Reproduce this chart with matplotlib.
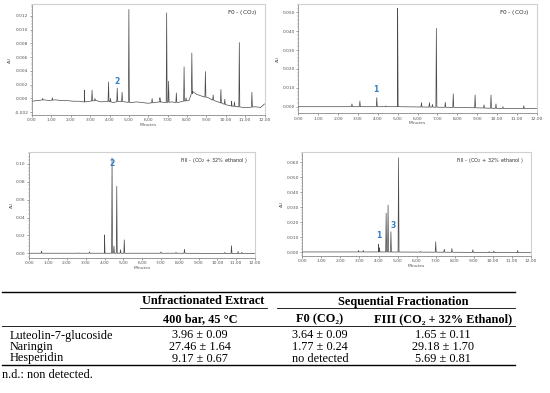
import numpy as np
import matplotlib
matplotlib.use("Agg")
import matplotlib.pyplot as plt
from matplotlib.lines import Line2D
from matplotlib.ticker import MultipleLocator, FormatStrFormatter

# ---- chromatogram data (retention time in min, apex in AU) ----
# F0 (CO2), top left
p1_rt = [0.55, 1.05, 2.7, 3.1, 3.25, 3.95, 4.05, 4.4, 4.65, 5.0, 6.2, 6.6, 6.95, 7.05,
         7.45, 7.85, 7.95, 8.25, 8.95, 9.35, 9.75, 9.95, 10.3, 10.45, 10.7, 11.35]
p1_h = [0.0000, 0.0001, 0.0012, 0.0012, 0.0000, 0.0024, 0.0000, 0.0015, 0.0009, 0.0129,
        0.0000, 0.0001, 0.0124, 0.0025, 0.0008, 0.0046, 0.0001, 0.0066, 0.0039, 0.0005,
        0.0013, -0.0001, -0.0004, -0.0005, 0.0081, 0.0009]
p1_base_t = [0, 0.3, 0.6, 0.9, 1.2, 1.5, 1.8, 2.1, 2.4, 2.7, 3.0, 3.3, 3.6, 3.9, 4.2, 4.5,
             4.8, 5.1, 5.4, 5.7, 6.0, 6.3, 6.6, 6.9, 7.2, 7.5, 7.8, 8.1, 8.3, 8.5, 8.8, 9.1,
             9.4, 9.7, 10.0, 10.3, 10.6, 10.9, 11.2, 11.5, 11.8, 12.0]
p1_base_y = [-0.0004, -0.0003, -0.0002, -0.0003, -0.0002, -0.0003, -0.0003, -0.0004,
             -0.0004, -0.0005, -0.0004, -0.0003, -0.0005, -0.0004, -0.0006, -0.0004,
             -0.0005, -0.0006, -0.0005, -0.0006, -0.0007, -0.0006, -0.0005, -0.0006,
             -0.0005, -0.0006, -0.0004, -0.0003, 0.0010, 0.0006, 0.0003, 0.0001, -0.0003,
             -0.0006, -0.0009, -0.0011, -0.0012, -0.0013, -0.0013, -0.0012, -0.0013, -0.0008]

# F0 (CO2), top right
p2_rt = [2.7, 3.1, 3.95, 4.4, 5.0, 6.2, 6.6, 6.75, 6.95, 7.4, 7.8, 8.9, 9.35, 9.7, 9.95,
         10.3, 11.35]
p2_h = [0.0015, 0.0030, 0.0048, 0.0004, 0.0522, 0.0022, 0.0022, 0.0012, 0.0415, 0.0023,
        0.0068, 0.0062, 0.0010, 0.0062, 0.0015, 0.0000, 0.0005]
p2_base_t = [0, 3.0, 5.0, 6.5, 8.0, 9.0, 10.0, 11.0, 12.0]
p2_base_y = [0.0000, 0.0000, 0.0000, -0.0002, -0.0004, -0.0006, -0.0009, -0.0010, -0.0010]

# FIII (CO2 + 32% ethanol), bottom left
p3_rt = [0.65, 2.6, 3.2, 4.0, 4.4, 4.5, 4.65, 4.85, 5.05, 7.0, 7.8, 8.25, 10.4, 10.75,
         11.1, 11.3]
p3_h = [0.0025, 0.0005, 0.0015, 0.0205, 0.1067, 0.0080, 0.0750, 0.0040, 0.0150, 0.0015,
        0.0010, 0.0045, 0.0010, 0.0085, 0.0020, 0.0010]
p3_base_t = [0, 4.0, 6.0, 8.0, 10.0, 12.0]
p3_base_y = [0.0000, 0.0000, 0.0000, 0.0000, -0.0002, -0.0003]

# FIII (CO2 + 32% ethanol), bottom right
p4_rt = [2.95, 3.2, 4.0, 4.05, 4.4, 4.5, 4.65, 5.05, 6.2, 7.0, 7.45, 7.85, 8.95, 9.8,
         10.05, 11.3]
p4_h = [0.0012, 0.0012, 0.0053, 0.0030, 0.0260, 0.0315, 0.0137, 0.0630, 0.0005, 0.0070,
        0.0020, 0.0025, 0.0017, 0.0004, 0.0008, 0.0012]
p4_base_t = [0, 4.0, 6.0, 8.0, 10.0, 12.0]
p4_base_y = [0.0002, 0.0002, 0.0001, 0.0000, -0.0002, -0.0003]

# ---- table data ----
compounds = ["Luteolin-7-glucoside", "Naringin", "Hesperidin"]
unfractionated = ["3.96 ± 0.09", "27.46 ± 1.64", "9.17 ± 0.67"]
f0_values = ["3.64 ± 0.09", "1.77 ± 0.24", "no detected"]
fiii_values = ["1.65 ± 0.11", "29.18 ± 1.70", "5.69 ± 0.81"]

W, H = 550, 393
fig = plt.figure(figsize=(W / 100, H / 100), dpi=100)
fig.patch.set_facecolor("white")


def trace(rt, h, bt, by, hw=0.025):
    # baseline knots plus one narrow triangle per peak
    xs = list(bt)
    ys = list(by)
    foot = np.interp(rt, bt, by)
    for t, a, f in zip(rt, h, foot):
        xs += [t - hw, t, t + hw]
        ys += [f, a, f]
    order = np.argsort(xs, kind="stable")
    return np.array(xs)[order], np.array(ys)[order]


def chrom(rect_px, rt, h, bt, by, ylim, ymaj, yfmt, title, tfs, peaks):
    x0, x1, y0, y1 = rect_px
    ax = fig.add_axes([x0 / W, 1 - y1 / H, (x1 - x0) / W, (y1 - y0) / H])
    x, y = trace(rt, h, bt, by)
    ax.plot(x, y, color="#4a4a4a", lw=0.5)
    ax.set_xlim(0, 12)
    ax.set_ylim(*ylim)
    ax.xaxis.set_major_locator(MultipleLocator(1))
    ax.xaxis.set_minor_locator(MultipleLocator(0.2))
    ax.xaxis.set_major_formatter(FormatStrFormatter("%.2f"))
    ax.yaxis.set_major_locator(MultipleLocator(ymaj))
    ax.yaxis.set_minor_locator(MultipleLocator(ymaj / 5))
    ax.yaxis.set_major_formatter(FormatStrFormatter(yfmt))
    ax.tick_params(labelsize=3.2, colors="#555555", length=1.5, width=0.4, pad=1)
    ax.tick_params(which="minor", length=0.8, width=0.3, colors="#777777")
    for s in ("left", "bottom"):
        ax.spines[s].set_color("#777777")
        ax.spines[s].set_linewidth(0.5)
    for s in ("top", "right"):
        ax.spines[s].set_color("#d0d0d0")
        ax.spines[s].set_linewidth(0.8)
    ax.set_xlabel("Minutes", fontsize=3.2, color="#555555", labelpad=0.5)
    ax.set_ylabel("AU", fontsize=3.2, color="#555555", labelpad=1.5)
    ax.text(0.97, 0.92, title, transform=ax.transAxes, ha="right", va="center",
            fontsize=tfs, color="#333333")
    for lab, t, yv in peaks:
        ax.text(t, yv, lab, ha="center", va="center", fontsize=5.5,
                color="#2f7fc8", fontweight="bold")
    return ax


chrom((32, 264.5, 4, 115), p1_rt, p1_h, p1_base_t, p1_base_y, (-0.0024, 0.0137),
      0.002, "%.3f", "F0 - (CO$_2$)", 4.2, [("2", 4.4, 0.0025)])
chrom((298.3, 536.7, 4, 113.3), p2_rt, p2_h, p2_base_t, p2_base_y, (-0.0035, 0.0544),
      0.01, "%.3f", "F0 - (CO$_2$)", 4.2, [("1", 3.9, 0.0089)])
chrom((29.3, 255, 151.7, 257.7), p3_rt, p3_h, p3_base_t, p3_base_y, (-0.005, 0.1137),
      0.02, "%.2f", "FIII - (CO$_2$ + 32% ethanol )", 3.6, [("2", 4.4, 0.100)])
chrom((302.3, 531, 152.3, 255.7), p4_rt, p4_h, p4_base_t, p4_base_y, (-0.0023, 0.0667),
      0.01, "%.3f", "FIII - (CO$_2$ + 32% ethanol )", 3.6,
      [("1", 4.0, 0.0113), ("3", 4.75, 0.0180)])

# ---- table, drawn in pixel coordinates ----
tax = fig.add_axes([0, 0, 1, 1], zorder=-1)
tax.set_xlim(0, W)
tax.set_ylim(H, 0)
tax.axis("off")

serif = "Liberation Serif"
fs = 8.8


def rule(x0, x1, y, lw):
    tax.add_line(Line2D([x0, x1], [y, y], color="black", lw=lw))


rule(2, 515, 291.7, 1.0)
rule(140, 267, 307.7, 0.6)
rule(277, 515, 307.7, 0.6)
rule(2, 515, 326, 0.6)
rule(2, 515, 365, 1.0)

col_x = [200, 320, 443]
tax.text(203, 301.5, "Unfractionated Extract", ha="center", va="center",
         fontsize=fs, family=serif, fontweight="bold")
tax.text(403, 301.5, "Sequential Fractionation", ha="center", va="center",
         fontsize=fs, family=serif, fontweight="bold")
heads = ["400 bar, 45 °C", "F0 (CO₂)", "FIII (CO₂ + 32% Ethanol)"]
for cx, hd in zip(col_x, heads):
    tax.text(cx, 319, hd, ha="center", va="center", fontsize=fs,
             family=[serif, "DejaVu Serif"], fontweight="bold")

row_y = [335.5, 347, 358.5]
for ry, name, a, b, c in zip(row_y, compounds, unfractionated, f0_values, fiii_values):
    tax.text(10, ry, name, ha="left", va="center", fontsize=fs, family=serif)
    for cx, v in zip(col_x, (a, b, c)):
        tax.text(cx, ry, v, ha="center", va="center", fontsize=fs, family=serif)

tax.text(2, 375.5, "n.d.: non detected.", ha="left", va="center", fontsize=fs,
         family=serif)

fig.savefig("out.png", dpi=100)
